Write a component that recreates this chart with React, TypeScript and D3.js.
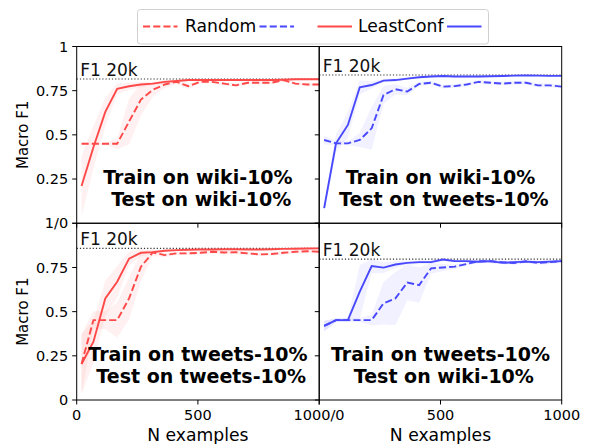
import React from 'react';
import * as d3 from 'd3';

// ---- data ----
const xs = [20, 69, 118, 167, 216, 265, 314, 363, 412, 461, 510, 559, 608, 657, 706, 755, 804, 853, 902, 951, 1000];

// Train wiki / Test wiki (red)
const lcA = [0.21, 0.43, 0.63, 0.76, 0.775, 0.785, 0.79, 0.8, 0.805, 0.81, 0.81, 0.81, 0.81, 0.81, 0.81, 0.81, 0.81, 0.812, 0.815, 0.815, 0.815];
const lcASd = [0.17, 0.12, 0.08, 0.03, 0.02, 0.015, 0.01, 0.01, 0.006, 0.006, 0.006, 0.005, 0.005, 0.005, 0.005, 0.005, 0.005, 0.005, 0.005, 0.005, 0.005];
const rdA = [0.45, 0.45, 0.45, 0.45, 0.575, 0.7, 0.755, 0.785, 0.8, 0.775, 0.8, 0.8, 0.79, 0.78, 0.795, 0.795, 0.795, 0.81, 0.79, 0.785, 0.785];
const rdASd = [0.005, 0.005, 0.005, 0.03, 0.13, 0.09, 0.04, 0.02, 0.012, 0.015, 0.01, 0.01, 0.01, 0.01, 0.01, 0.01, 0.01, 0.008, 0.01, 0.01, 0.01];

// Train wiki / Test tweets (blue)
const lcB = [0.085, 0.452, 0.556, 0.769, 0.782, 0.807, 0.81, 0.818, 0.826, 0.83, 0.833, 0.83, 0.83, 0.83, 0.832, 0.833, 0.835, 0.836, 0.835, 0.834, 0.834];
const lcBSd = [0.02, 0.05, 0.07, 0.04, 0.02, 0.01, 0.008, 0.006, 0.005, 0.005, 0.005, 0.005, 0.005, 0.005, 0.005, 0.005, 0.005, 0.005, 0.005, 0.005, 0.005];
const rdB = [0.471, 0.452, 0.452, 0.471, 0.537, 0.726, 0.758, 0.745, 0.788, 0.795, 0.773, 0.776, 0.785, 0.8, 0.795, 0.79, 0.795, 0.795, 0.78, 0.78, 0.773];
const rdBSd = [0.025, 0.01, 0.01, 0.04, 0.12, 0.05, 0.03, 0.02, 0.012, 0.01, 0.01, 0.01, 0.01, 0.01, 0.01, 0.01, 0.01, 0.01, 0.01, 0.01, 0.01];

// Train tweets / Test tweets (red)
const lcC = [0.204, 0.33, 0.575, 0.669, 0.8, 0.833, 0.837, 0.845, 0.848, 0.85, 0.852, 0.852, 0.853, 0.853, 0.852, 0.852, 0.853, 0.855, 0.856, 0.857, 0.858];
const lcCSd = [0.17, 0.12, 0.1, 0.09, 0.04, 0.02, 0.01, 0.008, 0.006, 0.005, 0.005, 0.005, 0.005, 0.005, 0.005, 0.005, 0.005, 0.005, 0.005, 0.005, 0.005];
const rdC = [0.204, 0.452, 0.452, 0.452, 0.575, 0.754, 0.835, 0.82, 0.83, 0.83, 0.833, 0.839, 0.835, 0.836, 0.83, 0.824, 0.826, 0.833, 0.839, 0.842, 0.839];
const rdCSd = [0.17, 0.05, 0.05, 0.1, 0.12, 0.08, 0.02, 0.012, 0.01, 0.01, 0.01, 0.01, 0.01, 0.01, 0.01, 0.01, 0.01, 0.01, 0.01, 0.01, 0.01];

// Train tweets / Test wiki (blue)
const lcD = [0.419, 0.452, 0.452, 0.613, 0.758, 0.749, 0.767, 0.776, 0.78, 0.78, 0.795, 0.786, 0.786, 0.782, 0.786, 0.776, 0.78, 0.783, 0.78, 0.783, 0.786];
const lcDSd = [0.03, 0.01, 0.01, 0.15, 0.04, 0.03, 0.02, 0.012, 0.01, 0.01, 0.008, 0.008, 0.008, 0.008, 0.008, 0.008, 0.008, 0.008, 0.008, 0.008, 0.008];
const rdD = [0.419, 0.452, 0.452, 0.452, 0.452, 0.547, 0.575, 0.665, 0.65, 0.745, 0.75, 0.755, 0.77, 0.785, 0.785, 0.78, 0.775, 0.785, 0.775, 0.78, 0.786];
const rdDSd = [0.03, 0.01, 0.01, 0.01, 0.03, 0.12, 0.15, 0.1, 0.1, 0.03, 0.02, 0.012, 0.01, 0.01, 0.01, 0.01, 0.01, 0.01, 0.01, 0.01, 0.01];

const f1Ref = [0.816, 0.839, 0.858, 0.797];

const yTicks = [0, 0.25, 0.5, 0.75, 1];
const yTickLabelsTop = ['1/0', '0.25', '0.5', '0.75', '1'];
const yTickLabelsBottom = ['0', '0.25', '0.5', '0.75', ''];
const xTicks = [0, 500, 1000];
const xTickLabelsLeft = ['0', '500', '1000/0'];
const xTickLabelsRight = ['', '500', '1000'];

const titles1 = ['Train on wiki-10%', 'Train on wiki-10%', 'Train on tweets-10%', 'Train on tweets-10%'];
const titles2 = [' Test on wiki-10%', ' Test on tweets-10%', ' Test on tweets-10%', ' Test on wiki-10%'];

// ---- layout ----
const W = 589, H = 444;
const LEFTS = [76.7, 319.3];
const PW = 242.4;
const TOPS = [46.5, 223.3];
const PH = 176.7;
const RED = '#ff4848';
const BLUE = '#4848ff';
const FONT = 'DejaVu Sans';

const panels = [
  { col: 0, row: 0, color: RED, lc: lcA, lcSd: lcASd, rd: rdA, rdSd: rdASd },
  { col: 1, row: 0, color: BLUE, lc: lcB, lcSd: lcBSd, rd: rdB, rdSd: rdBSd },
  { col: 0, row: 1, color: RED, lc: lcC, lcSd: lcCSd, rd: rdC, rdSd: rdCSd },
  { col: 1, row: 1, color: BLUE, lc: lcD, lcSd: lcDSd, rd: rdD, rdSd: rdDSd },
];

const DASH = '7.1 3.1';

function Panel({ p, i }: { p: any; i: number }) {
  const x0 = LEFTS[p.col];
  const y0 = TOPS[p.row];
  const x = d3.scaleLinear().domain([0, 1000]).range([x0, x0 + PW]);
  const y = d3.scaleLinear().domain([0, 1]).range([y0 + PH, y0]);
  const line = d3.line<number>().x((_, k) => x(xs[k])).y((v) => y(v));
  const band = (vals: number[], sd: number[]) =>
    d3.area<number>()
      .x((_, k) => x(xs[k]))
      .y0((v, k) => y(Math.max(0, v - sd[k])))
      .y1((v, k) => y(Math.min(1, v + sd[k])))(vals) as string;
  const cx = x0 + PW / 2;
  const f1y = y(f1Ref[i]);
  return (
    <g>
      <path d={band(p.lc, p.lcSd)} fill={p.color} fillOpacity={0.08} stroke="none" />
      <path d={band(p.rd, p.rdSd)} fill={p.color} fillOpacity={0.08} stroke="none" />
      <line x1={x(0)} x2={x(1000)} y1={f1y} y2={f1y} stroke="#333" strokeWidth={1.1} strokeDasharray="1.2 2" />
      <text x={x(0) + 3.5} y={f1y - 3} fontFamily={FONT} fontSize={17} fill="#111">F1 20k</text>
      <path d={line(p.rd) as string} fill="none" stroke={p.color} strokeWidth={1.9} strokeDasharray={DASH} />
      <path d={line(p.lc) as string} fill="none" stroke={p.color} strokeWidth={1.9} />
      <rect x={x0} y={y0} width={PW} height={PH} fill="none" stroke="#000" strokeWidth={1} />
      {yTicks.map((t, k) => (
        <g key={'y' + k}>
          <line x1={x0 - 4.5} x2={x0} y1={y(t)} y2={y(t)} stroke="#000" strokeWidth={1} />
          {p.col === 0 && (
            <text x={x0 - 8.5} y={y(t) + 5.2} textAnchor="end" fontFamily={FONT} fontSize={14.5} fill="#000">
              {(p.row === 0 ? yTickLabelsTop : yTickLabelsBottom)[k]}
            </text>
          )}
        </g>
      ))}
      {xTicks.map((t, k) => (
        <g key={'x' + k}>
          <line x1={x(t)} x2={x(t)} y1={y0 + PH} y2={y0 + PH + 4.5} stroke="#000" strokeWidth={1} />
          {p.row === 1 && (
            <text x={x(t)} y={419.5} textAnchor="middle" fontFamily={FONT} fontSize={14.5} fill="#000">
              {(p.col === 0 ? xTickLabelsLeft : xTickLabelsRight)[k]}
            </text>
          )}
        </g>
      ))}
      <text x={cx} y={y0 + 137.5} textAnchor="middle" fontFamily={FONT} fontWeight="bold" fontSize={19} fill="#000" style={{ whiteSpace: 'pre' }}>
        {titles1[i]}
      </text>
      <text x={cx} y={y0 + 159.2} textAnchor="middle" fontFamily={FONT} fontWeight="bold" fontSize={19} fill="#000" style={{ whiteSpace: 'pre' }}>
        {titles2[i]}
      </text>
      {p.row === 1 && (
        <text x={cx} y={440.5} textAnchor="middle" fontFamily={FONT} fontSize={17.2} fill="#000">N examples</text>
      )}
      {p.col === 0 && (
        <text transform={`translate(28,${y0 + PH / 2}) rotate(-90)`} textAnchor="middle" fontFamily={FONT} fontSize={15} fill="#000">Macro F1</text>
      )}
    </g>
  );
}

export default function App() {
  return (
    <svg width={W} height={H} style={{ position: 'absolute', left: 0, top: 0, background: '#fff' }}>
      <rect x={0} y={0} width={W} height={H} fill="#fff" />
      {panels.map((p, i) => <Panel key={i} p={p} i={i} />)}
      {/* legend */}
      <g>
        <rect x={137.5} y={9.5} width={351} height={34.5} rx={3} fill="#fff" fillOpacity={0.8} stroke="#d0d0d0" strokeWidth={1} />
        <line x1={143} x2={177.5} y1={26.5} y2={26.5} stroke={RED} strokeWidth={1.9} strokeDasharray={DASH} />
        <text x={185} y={32.3} fontFamily={FONT} fontSize={17.2} fill="#000">Random</text>
        <line x1={259.5} x2={294} y1={26.5} y2={26.5} stroke={BLUE} strokeWidth={1.9} strokeDasharray={DASH} />
        <line x1={317.5} x2={352} y1={26.5} y2={26.5} stroke={RED} strokeWidth={1.9} />
        <text x={358} y={32.3} fontFamily={FONT} fontSize={17.2} fill="#000">LeastConf</text>
        <line x1={447} x2={481.5} y1={26.5} y2={26.5} stroke={BLUE} strokeWidth={1.9} />
      </g>
    </svg>
  );
}
